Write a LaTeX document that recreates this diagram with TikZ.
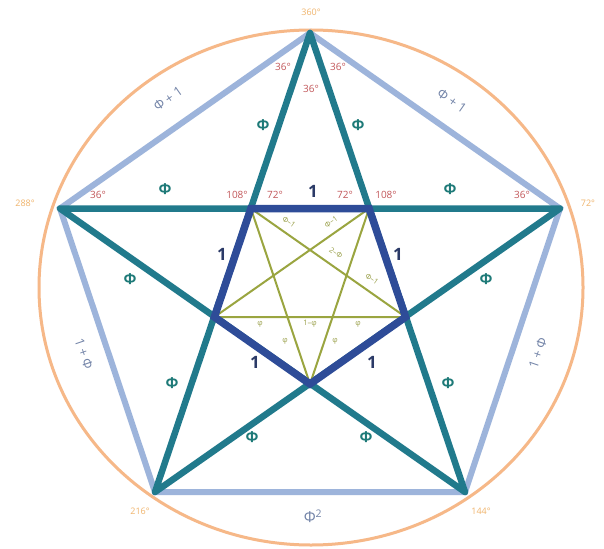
\documentclass[tikz,border=0pt]{standalone}
\usepackage{fontspec}
\setmainfont{Open Sans}
\definecolor{circC}{HTML}{F6B888}
\definecolor{pentC}{HTML}{9DB4DB}
\definecolor{starC}{HTML}{217A8C}
\definecolor{innerC}{HTML}{2E4C98}
\definecolor{istarC}{HTML}{9AA540}
\definecolor{degT}{HTML}{F0B46C}
\definecolor{angT}{HTML}{C2575A}
\definecolor{phiT}{HTML}{1E7A78}
\definecolor{oneT}{HTML}{2B3A67}
\definecolor{sumT}{HTML}{7384A8}
\definecolor{smallT}{HTML}{9AA04A}
\begin{document}
\begin{tikzpicture}[x=1pt,y=-1pt,
  circ/.style={draw=circC, line width=3pt},
  outerpent/.style={draw=pentC, line width=6pt, line join=miter},
  starline/.style={draw=starC, line width=6.5pt, line join=round},
  innerpent/.style={draw=innerC, line width=7.5pt, line join=miter},
  istar/.style={draw=istarC, line width=2pt},
  deglab/.style={text=degT, font=\fontsize{9}{9}\selectfont, inner sep=0pt},
  anglab/.style={text=angT, font=\fontsize{10}{10}\selectfont, inner sep=0pt},
  philab/.style={text=phiT, font=\bfseries\fontsize{15}{15}\selectfont, inner sep=0pt},
  onelab/.style={text=oneT, font=\bfseries\fontsize{17}{17}\selectfont, inner sep=0pt},
  sumlab/.style={text=sumT, font=\fontsize{13}{13}\selectfont, inner sep=0pt},
  smalllab/.style={text=smallT, font=\fontsize{7.5}{7.5}\selectfont, inner sep=0pt}
]
\useasboundingbox[fill=white] (0,0) rectangle (604,548);
% vertices
\coordinate (A) at (310,33);
\coordinate (B) at (560,208.5);
\coordinate (C) at (465,492);
\coordinate (D) at (155,492);
\coordinate (E) at (60,208.5);
\coordinate (P1) at (250.9,208.5);
\coordinate (P2) at (369.1,208.5);
\coordinate (P3) at (405.6,317);
\coordinate (P4) at (310,384);
\coordinate (P5) at (214.4,317);
\coordinate (O) at (311,287.5);
% circle
\draw[circ] (O) ellipse [x radius=272, y radius=257.5];
% outer pentagon
\draw[outerpent] (A) -- (B) -- (C) -- (D) -- (E) -- cycle;
% star
\draw[starline] (A) -- (C) -- (E) -- (B) -- (D) -- cycle;
% inner star
\draw[istar] (P1) -- (P3) -- (P5) -- (P2) -- (P4) -- cycle;
% inner pentagon
\draw[innerpent] (P1) -- (P2) -- (P3) -- (P4) -- (P5) -- cycle;
% vertex degree labels
\node[deglab] (d360) at (311,12) {360°};
\node[deglab] (d288) at (25,203) {288°};
\node[deglab] (d72) at (588,203) {72°};
\node[deglab] (d216) at (140,511) {216°};
\node[deglab] (d144) at (481,511) {144°};
% angle labels
\node[anglab] (a1) at (283,67) {36°};
\node[anglab] (a2) at (338,67) {36°};
\node[anglab] (a3) at (311,89) {36°};
\node[anglab] (a4) at (98,195) {36°};
\node[anglab] (a5) at (522,195) {36°};
\node[anglab] (a6) at (237,195) {108°};
\node[anglab] (a7) at (275,195) {72°};
\node[anglab] (a8) at (345,195) {72°};
\node[anglab] (a9) at (386,195) {108°};
% one labels
\node[onelab] (o1) at (313,191) {1};
\node[onelab] (o2) at (222,254) {1};
\node[onelab] (o3) at (398,254) {1};
\node[onelab] (o4) at (255,362) {1};
\node[onelab] (o5) at (372,362) {1};
% phi labels
\node[philab] (f1) at (263,125) {Φ};
\node[philab] (f2) at (358,125) {Φ};
\node[philab] (f3) at (165,189) {Φ};
\node[philab] (f4) at (450,189) {Φ};
\node[philab] (f5) at (130,279) {Φ};
\node[philab] (f6) at (486,279) {Φ};
\node[philab] (f7) at (172,383) {Φ};
\node[philab] (f8) at (448,383) {Φ};
\node[philab] (f9) at (252,437) {Φ};
\node[philab] (f10) at (366,437) {Φ};
\node[text=sumT, font=\fontsize{15}{15}\selectfont, inner sep=0pt] (fsq) at (313,516) {Φ\textsuperscript{2}};
% sum labels
\node[sumlab, rotate=35] (s1) at (168,99) {Φ + 1};
\node[sumlab, rotate=-35] (s2) at (452,101) {Φ + 1};
\node[sumlab, rotate=-71] (s3) at (84,354) {1 + Φ};
\node[sumlab, rotate=71] (s4) at (538,353) {1 + Φ};
% small inner labels
\node[smalllab, rotate=-35] (m1) at (289,222) {Φ–1};
\node[smalllab, rotate=35] (m2) at (331,222) {Φ–1};
\node[smalllab, rotate=-35] (m3) at (336,253) {2–Φ};
\node[smalllab, rotate=-35] (m4) at (372,279) {Φ–1};
\node[smalllab] (m5) at (260,324) {φ};
\node[smalllab] (m6) at (310,324) {1–φ};
\node[smalllab] (m7) at (358,324) {φ};
\node[smalllab] (m8) at (285,341) {φ};
\node[smalllab] (m9) at (335,341) {φ};
\end{tikzpicture}
\end{document}
